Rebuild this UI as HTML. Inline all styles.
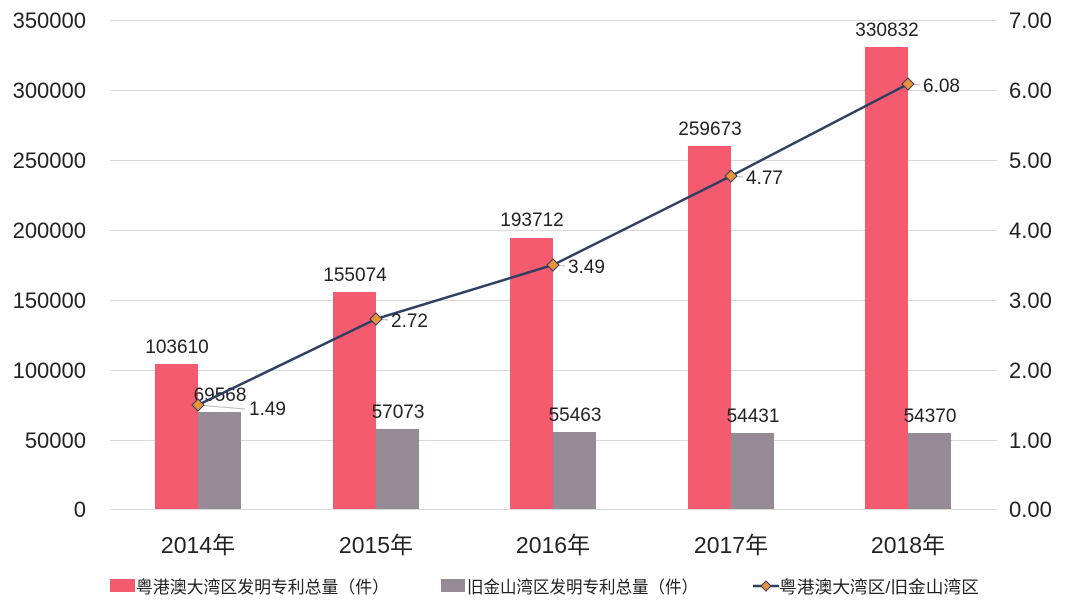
<!DOCTYPE html>
<html><head><meta charset="utf-8"><style>
body{margin:0;background:#fff;}
svg text{font-family:"Liberation Sans","Noto Sans CJK SC",sans-serif;fill:#222;}
</style></head><body>
<svg width="1080" height="609" viewBox="0 0 1080 609" xmlns="http://www.w3.org/2000/svg">
<g stroke="#d9d9d9" stroke-width="1">
<line x1="110" y1="20.5" x2="997" y2="20.5"/>
<line x1="110" y1="90.5" x2="997" y2="90.5"/>
<line x1="110" y1="160.5" x2="997" y2="160.5"/>
<line x1="110" y1="230.5" x2="997" y2="230.5"/>
<line x1="110" y1="300.5" x2="997" y2="300.5"/>
<line x1="110" y1="370.5" x2="997" y2="370.5"/>
<line x1="110" y1="440.5" x2="997" y2="440.5"/>
<line x1="110" y1="509.5" x2="997" y2="509.5"/>
</g>
<g font-size="22" text-anchor="end">
<text x="86" y="28">350000</text>
<text x="86" y="98">300000</text>
<text x="86" y="168">250000</text>
<text x="86" y="238">200000</text>
<text x="86" y="308">150000</text>
<text x="86" y="378">100000</text>
<text x="86" y="448">50000</text>
<text x="86" y="517">0</text>
</g>
<g font-size="22" text-anchor="start">
<text x="1009" y="28">7.00</text>
<text x="1009" y="98">6.00</text>
<text x="1009" y="168">5.00</text>
<text x="1009" y="238">4.00</text>
<text x="1009" y="308">3.00</text>
<text x="1009" y="378">2.00</text>
<text x="1009" y="448">1.00</text>
<text x="1009" y="517">0.00</text>
</g>
<g fill="#F45B6E">
<rect x="155" y="364" width="43" height="145"/>
<rect x="333" y="292" width="43" height="217"/>
<rect x="510" y="238" width="43" height="271"/>
<rect x="688" y="146" width="43" height="363"/>
<rect x="865" y="47" width="43" height="462"/>
</g>
<g fill="#958A95">
<rect x="198" y="412" width="43" height="97"/>
<rect x="376" y="429" width="43" height="80"/>
<rect x="553" y="432" width="43" height="77"/>
<rect x="731" y="433" width="43" height="76"/>
<rect x="908" y="433" width="43" height="76"/>
</g>
<g font-size="19" text-anchor="middle">
<text x="177" y="353">103610</text>
<text x="355" y="281">155074</text>
<text x="532" y="226">193712</text>
<text x="710" y="135">259673</text>
<text x="887" y="36">330832</text>
<text x="220" y="401">69568</text>
<text x="398" y="418">57073</text>
<text x="575" y="421">55463</text>
<text x="753" y="422">54431</text>
<text x="930" y="422">54370</text>
</g>
<g stroke="#bbb" stroke-width="1">
<line x1="198" y1="405" x2="245" y2="409"/>
<line x1="376" y1="319" x2="388" y2="320"/>
<line x1="553" y1="265" x2="565" y2="266"/>
<line x1="731" y1="176" x2="743" y2="177"/>
<line x1="908" y1="84" x2="920" y2="85"/>
</g>
<polyline points="198,405 376,319 553,265 731,176 908,84" fill="none" stroke="#2E3F63" stroke-width="2.5"/>
<g fill="#E8943A" stroke="#3a3a5a" stroke-width="1">
<path d="M198,399 L204,405 L198,411 L192,405Z"/>
<path d="M376,313 L382,319 L376,325 L370,319Z"/>
<path d="M553,259 L559,265 L553,271 L547,265Z"/>
<path d="M731,170 L737,176 L731,182 L725,176Z"/>
<path d="M908,78 L914,84 L908,90 L902,84Z"/>
</g>
<g font-size="19">
<text x="249" y="415">1.49</text>
<text x="391" y="327">2.72</text>
<text x="568" y="273">3.49</text>
<text x="746" y="184">4.77</text>
<text x="923" y="92">6.08</text>
</g>
<g font-size="23" text-anchor="middle">
<text x="198" y="553">2014年</text>
<text x="376" y="553">2015年</text>
<text x="553" y="553">2016年</text>
<text x="731" y="553">2017年</text>
<text x="908" y="553">2018年</text>
</g>
<rect x="110" y="579" width="25" height="13" fill="#F45B6E"/>
<text x="136" y="593" font-size="17" textLength="253" lengthAdjust="spacingAndGlyphs">粤港澳大湾区发明专利总量（件）</text>
<rect x="441" y="579" width="24" height="13" fill="#958A95"/>
<text x="467" y="593" font-size="17" textLength="231" lengthAdjust="spacingAndGlyphs">旧金山湾区发明专利总量（件）</text>
<line x1="753" y1="586" x2="779" y2="586" stroke="#2E3F63" stroke-width="2.5"/>
<path d="M766,581 L771,586 L766,591 L761,586Z" fill="#E8943A" stroke="#3a3a5a" stroke-width="1"/>
<text x="779" y="593" font-size="17" textLength="200" lengthAdjust="spacingAndGlyphs">粤港澳大湾区/旧金山湾区</text>
</svg>
</body></html>
